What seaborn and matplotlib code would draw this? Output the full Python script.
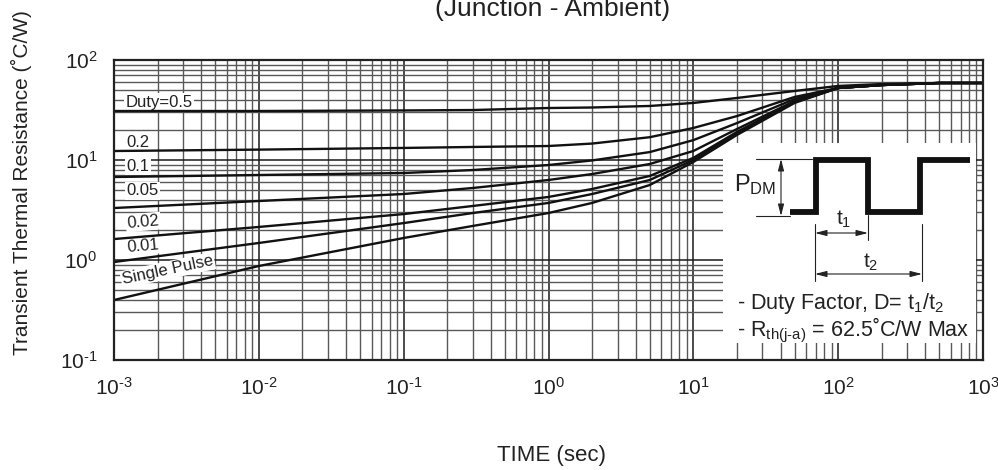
import numpy as np
import pandas as pd
import matplotlib.pyplot as plt
import matplotlib.ticker as mticker
from matplotlib.patches import Rectangle
import seaborn as sns

# values (log-log transient thermal response)
times = [1e-3, 1e-2, 0.1, 0.3, 1, 2, 5, 10, 20, 50, 100, 200, 500, 1000]
duty_labels = ["0.5", "0.2", "0.1", "0.05", "0.02", "0.01", "Single Pulse"]
r_d50 = [30.9, 30.9, 31.3, 31.6, 33.1, 33.5, 34.7, 37.2, 41.7, 49.0, 55.0, 57.5, 58.9, 58.9]
r_d20 = [12.3, 12.7, 13.2, 13.5, 13.8, 14.6, 16.9, 20.9, 27.5, 42.7, 52.5, 56.2, 58.9, 58.9]
r_d10 = [6.76, 7.08, 7.41, 7.94, 8.91, 9.9, 12.0, 15.8, 23.4, 40.7, 52.5, 56.2, 58.9, 58.9]
r_d05 = [3.31, 3.89, 4.57, 5.25, 6.31, 7.24, 9.12, 12.3, 20.4, 38.9, 52.5, 56.2, 58.9, 58.9]
r_d02 = [1.62, 2.14, 2.88, 3.47, 4.27, 5.13, 6.92, 10.5, 19.1, 38.0, 52.5, 56.2, 58.9, 58.9]
r_d01 = [0.955, 1.48, 2.34, 2.95, 3.72, 4.57, 6.31, 10.0, 18.6, 38.0, 52.5, 56.2, 58.9, 58.9]
r_single = [0.398, 0.871, 1.66, 2.19, 2.95, 3.72, 5.62, 9.55, 17.8, 37.2, 52.5, 56.2, 58.9, 58.9]

curve_texts = ["Duty=0.5", "0.2", "0.1", "0.05", "0.02", "0.01", "Single Pulse"]

sns.set_style("white")
plt.rcParams["font.family"] = ["Liberation Sans", "DejaVu Sans"]
plt.rcParams["mathtext.fontset"] = "custom"
plt.rcParams["mathtext.rm"] = "Liberation Sans"
plt.rcParams["mathtext.it"] = "Liberation Sans:italic"
plt.rcParams["mathtext.default"] = "regular"
plt.rcParams["axes.unicode_minus"] = False

all_r = [r_d50, r_d20, r_d10, r_d05, r_d02, r_d01, r_single]
df = pd.concat([
    pd.DataFrame({"time": times, "r": r, "duty": lab})
    for lab, r in zip(duty_labels, all_r)
], ignore_index=True)

W, H = 998, 470
TXT = "#222222"
fig = plt.figure(figsize=(W / 100, H / 100), dpi=100)
ax = fig.add_axes([114 / W, 110 / H, 869 / W, 300 / H])
ax.set_axisbelow(True)

sns.lineplot(data=df, x="time", y="r", hue="duty", units="duty", estimator=None,
             palette=["#111111"] * len(duty_labels), legend=False, lw=1.7,
             ax=ax, zorder=2)

ax.set_xscale("log")
ax.set_yscale("log")
ax.set_xlim(1e-3, 1e3)
ax.set_ylim(0.1, 100)


def pow10(v, pos):
    e = int(round(np.log10(v)))
    exp = r"\text{-}%d" % -e if e < 0 else "%d" % e
    return r"10$^{%s}$" % exp


for axis in (ax.xaxis, ax.yaxis):
    axis.set_major_locator(mticker.LogLocator(base=10, numticks=10))
    axis.set_major_formatter(mticker.FuncFormatter(pow10))
    axis.set_minor_locator(mticker.LogLocator(base=10, subs=np.arange(2, 10), numticks=20))
    axis.set_minor_formatter(mticker.NullFormatter())

ax.grid(which="major", color="#1a1a1a", lw=1.1)
ax.grid(which="minor", color="#585858", lw=1.0)
ax.tick_params(which="both", length=0, labelsize=15, colors=TXT)
ax.tick_params(axis="x", pad=12)
ax.tick_params(axis="y", pad=12)
for s in ax.spines.values():
    s.set_color(TXT)
    s.set_linewidth(1.6)

ax.set_xlabel("TIME (sec)", fontsize=16, color=TXT)
ax.xaxis.set_label_coords(0.504, -0.317)
ax.xaxis.label.set_va("center")
ax.set_ylabel("Transient Thermal Resistance (˚C/W)", fontsize=15, color=TXT)
ax.yaxis.set_label_coords(-0.107, 0.593)
ax.yaxis.label.set_va("center")

# curve labels with white boxes
label_pos = [(1.2e-3, 38), (1.22e-3, 15.1), (1.22e-3, 8.7), (1.22e-3, 4.9),
             (1.22e-3, 2.4), (1.22e-3, 1.38)]
label_rot = [0, 0, 0, 0, 5, 5]
for txt, (x, y), rot in zip(curve_texts[:-1], label_pos, label_rot):
    ax.text(x, y, txt, fontsize=12, ha="left", va="center", rotation=rot,
            color=TXT, zorder=1.5,
            bbox=dict(facecolor="white", edgecolor="none", pad=1.0))
ax.text(2.35e-3, 0.79, curve_texts[-1], fontsize=12, ha="center", va="center",
        rotation=12, color=TXT, zorder=1.5,
        bbox=dict(facecolor="white", edgecolor="none", pad=1.0))

# white inset area covering the grid
ax.add_patch(Rectangle((16, 0.148), 895 - 16, 14.8 - 0.148, facecolor="white",
                       edgecolor="none", zorder=1))


def fp(px, py):
    return px / W, 1 - py / H


# pulse train sketch
wave_x = [790, 816, 816, 868, 868, 920, 920, 970]
wave_y = [212, 212, 160, 160, 212, 212, 160, 160]
wx, wy = zip(*[fp(a, b) for a, b in zip(wave_x, wave_y)])
ax.plot(wx, wy, transform=fig.transFigure, clip_on=False, color="#111111",
        lw=4.2, solid_joinstyle="miter", solid_capstyle="butt", zorder=6)

thin = dict(transform=fig.transFigure, clip_on=False, color=TXT, lw=0.8, zorder=6)
for (x0, y0), (x1, y1) in [((756, 159), (812, 159)), ((756, 216), (790, 216)),
                           ((815, 224), (815, 281)), ((868, 215), (868, 240)),
                           ((922, 224), (922, 281))]:
    (a, b), (c, d) = fp(x0, y0), fp(x1, y1)
    ax.plot([a, c], [b, d], **thin)

arrow = dict(arrowstyle="<|-|>,head_length=0.7,head_width=0.18", color=TXT,
             lw=0.8, shrinkA=0, shrinkB=0)
for (x0, y0), (x1, y1) in [((781, 159), (781, 216)), ((815, 233), (868, 233)),
                           ((815, 274), (922, 274))]:
    ax.annotate("", xy=fp(x1, y1), xytext=fp(x0, y0), xycoords="figure fraction",
                textcoords="figure fraction", arrowprops=arrow, zorder=6)

fig.text(*fp(755, 185), r"P$_\mathregular{DM}$", fontsize=17, ha="center",
         va="center", color=TXT)
fig.text(*fp(844, 219), r"t$_\mathregular{1}$", fontsize=15, ha="center",
         va="center", color=TXT)
fig.text(*fp(871, 262), r"t$_\mathregular{2}$", fontsize=15, ha="center",
         va="center", color=TXT)
fig.text(*fp(737, 304), r"- Duty Factor, D= t$_\mathregular{1}$/t$_\mathregular{2}$",
         fontsize=15.5, ha="left", va="center", color=TXT)
fig.text(*fp(737, 330), r"- R$_\mathregular{th(j\text{-}a)}$ = 62.5˚C/W Max",
         fontsize=15.5, ha="left", va="center", color=TXT)

# title, cut at the top edge as in the reference
fig.text(553 / W, 1 - 16 / H, "(Junction - Ambient)", fontsize=19, ha="center",
         va="baseline", color=TXT)

fig.savefig("out.png", dpi=100)
